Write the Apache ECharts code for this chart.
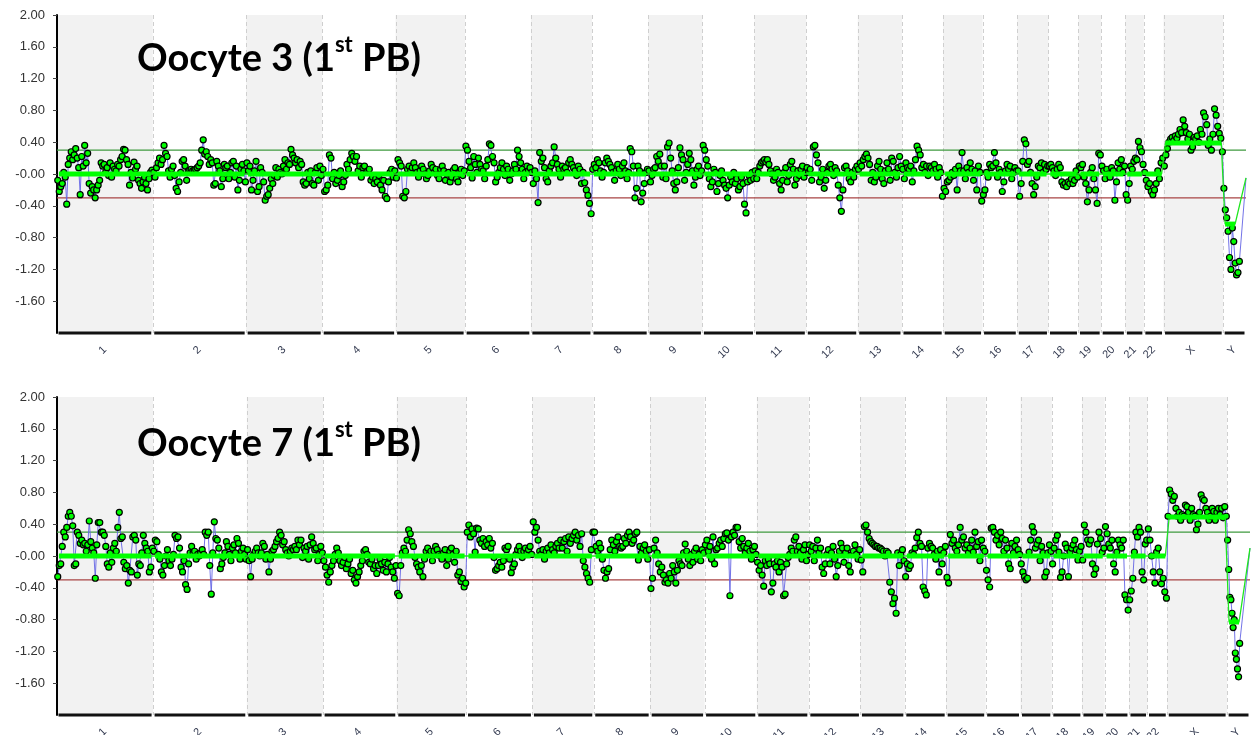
<!DOCTYPE html>
<html>
<head>
<meta charset="utf-8">
<script src="https://cdn.jsdelivr.net/npm/echarts@6/dist/echarts.min.js"></script>
<style>
  html, body { margin: 0; padding: 0; background: #fff; }
  #chart { width: 1259px; height: 735px; }
</style>
</head>
<body>
<div id="chart"></div>
<script>
// Chromosomes and their lengths (Mb, hg19)
const CHROMOSOMES = ['1','2','3','4','5','6','7','8','9','10','11','12','13','14','15','16','17','18','19','20','21','22','X','Y'];
const CHROM_LENGTH_MB = [249.3,243.2,198.0,191.2,180.9,171.1,159.1,146.4,141.2,135.5,135.0,133.9,115.2,107.3,102.5,90.4,81.2,78.1,59.1,63.0,48.1,51.3,155.3,59.4];

// Y axis ticks
const Y_MIN = -2.0, Y_MAX = 2.0, Y_STEP = 0.4;
// Calling thresholds
const GAIN_THRESHOLD = 0.30;
const LOSS_THRESHOLD = -0.30;

// Oocyte 3 (1st PB): log2 ratio per bin, one row per chromosome
const OOCYTE3_LOG2 = [
  [-0.08,-0.22,-0.16,-0.12,0.02,-0.04,-0.38,0.12,0.2,0.28,0.18,0.24,0.32,0.2,0.08,-0.26,0.22,0.1,0.36,0.14,0.26,-0.12,-0.24,-0.16,-0.2,-0.3,-0.2,-0.14,-0.08,0.14,0.1,0.12,0.02,0.08,-0.02,0.14,-0.04,0.1,0.06,0.04,0.12,0.1,0.18,0.22,0.31,0.3,0.18,0.12,-0.14,0.02,-0.05,0.15,0.06,0.1,-0.08,-0.12,-0.18,-0.1,-0.04,-0.12,-0.2,-0.06,0.02,0.05], // 1
  [0.02,-0.04,0.08,0.14,0.2,0.12,0.18,0.36,0.26,0.22,0.04,-0.04,0.06,0.1,-0.02,-0.18,-0.22,-0.1,0.02,0.16,0.18,0.1,-0.08,0.04,0.05,0.06,0.04,0.05,0.06,0.08,0.1,0.14,0.3,0.43,0.25,0.28,0.22,0.12,0.18,0.14,-0.14,-0.12,0.16,0.1,0.04,-0.16,-0.06,0.12,0.08,0.1,-0.06,0.02,0.14,0.16,-0.04,0.1,-0.2,-0.08,0.06,0.12,0.04,-0.1], // 2
  [0.14,0.04,0.1,-0.2,-0.08,0.04,0.16,-0.22,-0.16,0.08,0.02,-0.1,-0.33,-0.28,-0.26,-0.18,-0.06,-0.12,-0.02,0.08,-0.04,0.06,0.02,0.0,0.1,0.18,0.06,0.14,0.12,0.31,0.24,0.2,0.14,0.18,0.08,0.16,0.12,-0.1,-0.14,-0.12,0.02,-0.06,0.04,-0.12,-0.14,0.02,0.08,-0.08,0.1,-0.02], // 3
  [0.06,-0.22,-0.2,-0.14,0.24,0.2,-0.06,0.02,-0.12,-0.08,-0.02,0.04,-0.16,-0.1,-0.02,0.12,0.06,0.18,0.26,0.22,0.16,0.22,0.04,0.1,-0.04,0.08,0.1,0.02,0.04,0.06,-0.08,-0.04,-0.12,-0.06,-0.1,-0.02,-0.14,-0.2,-0.08,-0.28,-0.31,-0.1,0.02,0.06,-0.04,0.04], // 4
  [-0.05,0.18,0.14,0.1,-0.28,-0.3,-0.22,0.06,0.1,0.04,0.08,0.14,0.08,0.02,-0.04,0.04,0.1,0.06,0.0,-0.06,-0.02,0.04,0.12,0.08,0.02,0.06,-0.02,-0.06,0.06,0.1,0.04,-0.08,0.0,0.02,-0.1,-0.04,0.05,0.08,-0.06,-0.1,0.02,0.06,-0.02,0.04], // 5
  [0.35,0.3,0.16,0.08,-0.05,0.22,0.12,0.02,0.2,0.12,0.06,0.04,-0.06,0.1,0.18,0.38,0.36,0.22,0.14,-0.1,-0.04,0.02,0.08,0.14,0.06,-0.02,0.1,0.06,-0.08,0.0,0.04,0.12,0.06,0.3,0.22,0.14,0.06,-0.06,0.02,0.1,0.04,0.08], // 6
  [0.02,-0.12,0.04,-0.06,-0.36,0.27,0.16,0.2,0.08,-0.06,-0.1,0.04,0.1,0.14,0.34,0.2,0.12,0.06,-0.04,0.1,0.06,0.08,0.02,0.14,0.18,0.12,0.08,0.04,-0.02,0.1,0.06,-0.12,0.02,-0.11,-0.2,-0.27,-0.37,-0.5], // 7
  [0.06,0.12,0.08,0.18,0.14,0.04,-0.04,0.02,0.14,0.2,0.16,0.12,0.08,0.02,-0.08,0.04,0.12,0.06,-0.02,0.1,0.14,0.04,-0.06,0.02,0.32,0.28,0.1,-0.3,-0.18,0.1,0.04,-0.35,-0.24,-0.12,0.02,0.06], // 8
  [0.04,-0.1,-0.02,0.06,0.08,0.22,0.16,0.25,0.1,-0.04,0.1,-0.06,0.34,0.39,0.2,0.04,-0.12,-0.2,-0.1,0.08,0.33,0.24,0.18,-0.08,0.02,0.12,0.26,0.18,0.04,-0.14,-0.04,0.06,0.1,-0.02,0.04], // 9
  [0.36,0.3,0.18,0.1,-0.06,-0.16,-0.1,0.06,0.02,-0.22,-0.12,-0.02,0.04,-0.08,-0.14,-0.18,-0.3,-0.14,-0.04,-0.1,0.02,-0.12,-0.06,-0.2,-0.16,-0.04,-0.12,-0.38,-0.49,-0.1,-0.02,-0.08,0.02,-0.06], // 10
  [0.04,-0.06,0.02,0.1,0.14,0.16,0.18,0.15,0.18,0.12,0.04,0.0,-0.08,-0.04,0.06,0.02,-0.12,-0.2,-0.08,0.02,0.08,-0.1,-0.02,0.12,0.16,0.06,-0.14,-0.06,0.04,-0.02,0.06,0.1,-0.04,0.02], // 11
  [0.08,0.02,0.06,-0.08,0.34,0.36,0.24,0.14,-0.1,-0.04,0.06,-0.18,-0.08,0.02,0.1,0.12,0.06,-0.02,0.08,0.04,-0.14,-0.3,-0.47,-0.2,0.08,0.1,0.04,-0.06,-0.1,0.02,-0.04,0.06,0.1], // 12
  [0.06,0.14,0.1,0.18,0.22,0.25,0.2,0.12,-0.08,0.02,-0.1,-0.04,0.1,0.16,0.06,-0.06,-0.12,0.04,0.14,0.06,-0.08,0.2,0.16,0.02,-0.04,0.08,0.22,0.1], // 13
  [0.06,-0.06,0.14,0.08,0.06,0.1,-0.1,0.04,0.18,0.35,0.3,0.24,0.08,0.12,0.02,0.1,-0.02,0.1,0.08,0.04,0.12,0.06,-0.04,0.08,0.02,-0.28], // 14
  [-0.18,-0.22,-0.1,-0.08,-0.04,0.02,-0.02,0.06,-0.2,0.1,0.04,0.27,0.04,-0.06,0.08,0.02,0.14,0.06,-0.08,0.04,-0.2,0.1,0.02,-0.34], // 15
  [-0.26,-0.2,0.02,-0.04,0.12,0.08,0.1,0.27,0.14,-0.04,0.06,0.02,-0.22,-0.1,0.04,0.12,0.06,0.1,-0.06,0.02,0.08,0.04], // 16
  [0.04,-0.28,-0.12,0.16,0.43,0.38,0.12,0.16,0.02,-0.12,-0.26,-0.16,-0.04,0.1,0.08,0.14,0.02,0.12,0.06,0.1], // 17
  [0.1,0.12,0.08,0.04,-0.02,0.06,0.12,0.08,-0.1,-0.14,-0.12,-0.16,-0.1,-0.12,-0.06,-0.12,-0.08,0.04,-0.04], // 18
  [0.1,0.08,0.12,-0.04,-0.12,-0.35,-0.2,0.02,0.08,-0.06,-0.2,-0.37,0.26,0.24], // 19
  [0.1,0.04,-0.06,0.06,0.0,-0.04,0.08,0.04,-0.33,-0.1,0.14,0.06,0.18,0.02,0.1], // 20
  [-0.26,-0.33,-0.12,0.1,0.06,0.16,0.2,0.18,0.41,0.33,0.28,0.12], // 21
  [0.02,-0.08,-0.16,-0.12,-0.22,-0.26,-0.2,-0.12,0.04,-0.06,0.14,0.2], // 22
  [0.1,0.24,0.32,0.4,0.44,0.46,0.42,0.48,0.45,0.5,0.56,0.52,0.68,0.6,0.52,0.44,0.5,0.3,0.34,0.46,0.44,0.48,0.4,0.56,0.5,0.77,0.72,0.62,0.36,0.44,0.3,0.5,0.82,0.74,0.6,0.51,0.45,0.28], // X
  [-0.18,-0.45,-0.55,-0.72,-1.05,-1.2,-0.68,-0.85,-1.12,-1.27,-1.24,-1.1] // Y
];
const OOCYTE3_SEGMENT_MEAN = [0,0,0,0,0,0,0,0,0,0,0,0,0,0,0,0,0,0,0,0,0,0,0.39,-0.63];
const OOCYTE3_Y_MAPPED_MB = 44;   // Y bins lie in the first 44 Mb
const OOCYTE3_Y_END_VALUE = -0.05; // last bin at the end of Y

// Oocyte 7 (1st PB)
const OOCYTE7_LOG2 = [
  [-0.26,-0.12,-0.1,0.12,0.3,0.24,0.36,0.5,0.55,0.5,0.38,-0.12,-0.1,0.3,0.26,0.16,0.2,0.14,0.16,0.06,0.14,0.44,0.18,0.1,0.04,-0.28,0.14,0.42,0.42,0.3,0.3,0.26,0.12,-0.1,-0.14,0.04,-0.08,0.1,0.16,0.06,0.36,0.55,0.22,0.24,-0.08,-0.16,-0.12,-0.34,-0.18,-0.2,0.24,0.26,0.2,-0.24,-0.1,-0.12,0.04,0.26,0.16,0.1,0.06,-0.2,-0.14,0.1], // 1
  [0.06,0.2,0.18,0.02,-0.04,-0.2,-0.24,-0.12,0.0,0.08,-0.06,-0.12,-0.04,0.02,0.26,0.22,0.24,0.1,-0.14,-0.2,-0.06,-0.36,-0.42,-0.1,0.04,0.12,0.04,0.06,-0.04,0.02,0.0,0.04,0.08,0.02,0.3,0.26,0.3,-0.12,-0.48,0.04,0.43,0.22,0.2,0.1,-0.16,-0.1,-0.02,0.04,0.18,0.12,0.02,-0.06,0.1,0.14,0.04,0.22,0.16,-0.04,0.06,0.1,0.02,-0.04], // 2
  [0.08,-0.06,-0.26,-0.04,0.02,0.06,0.1,0.04,0.0,0.04,0.16,0.12,-0.04,0.02,-0.2,-0.04,0.06,0.08,0.12,0.18,0.22,0.3,0.26,0.14,0.18,0.08,0.04,0.0,0.06,0.1,0.08,0.12,0.08,0.2,0.14,0.2,-0.02,0.1,0.06,0.12,-0.04,0.14,0.24,0.16,0.08,0.1,-0.06,0.02,0.12,0.04], // 3
  [-0.06,-0.14,-0.24,-0.33,-0.2,-0.12,-0.06,0.02,0.1,0.04,-0.06,-0.12,-0.08,-0.02,-0.16,-0.1,-0.04,-0.22,-0.18,-0.3,-0.34,-0.26,-0.2,-0.12,-0.06,0.06,0.08,0.02,-0.08,-0.1,-0.04,-0.16,-0.12,-0.22,-0.12,-0.04,-0.1,-0.18,-0.08,-0.2,-0.1,-0.02,-0.14,-0.2,-0.28,-0.12], // 4
  [-0.47,-0.5,-0.12,0.04,0.1,0.06,0.2,0.33,0.28,0.18,0.12,-0.02,-0.1,-0.14,-0.2,-0.12,-0.26,-0.04,0.06,0.1,0.02,0.06,-0.06,0.06,0.12,0.08,0.02,0.0,-0.04,0.04,0.08,-0.12,-0.04,0.06,0.1,0.02,-0.08,0.06,-0.24,-0.2,-0.32,-0.28,-0.39,-0.34], // 5
  [0.3,0.39,0.24,0.34,0.28,0.05,0.35,0.34,0.2,0.16,0.22,0.12,0.18,0.14,0.22,0.1,0.16,-0.02,-0.18,-0.16,-0.12,-0.08,-0.14,-0.06,0.1,0.08,0.12,-0.04,-0.21,-0.14,-0.1,0.02,0.08,0.12,0.06,-0.02,0.06,0.1,0.04,0.08,0.12,0.02], // 6
  [0.43,0.3,0.36,0.2,0.06,0.02,0.08,-0.04,0.06,0.1,0.04,0.14,0.08,0.04,0.12,0.16,0.1,0.2,0.1,0.18,0.22,0.06,0.24,0.16,0.22,0.26,0.3,0.2,0.26,0.12,0.28,-0.06,-0.14,-0.22,-0.28,-0.33,0.08,0.3], // 7
  [0.3,0.12,0.06,0.16,0.1,-0.04,-0.18,-0.28,-0.2,-0.16,0.08,0.2,0.14,0.06,0.18,0.24,0.12,0.1,0.12,0.22,0.16,0.26,0.3,0.24,0.16,0.2,0.28,0.3,-0.05,0.12,0.04,0.1,0.14,0.06,-0.04,0.08], // 8
  [-0.41,-0.28,0.1,0.2,0.04,-0.1,-0.2,-0.14,-0.24,-0.33,-0.3,-0.34,-0.22,-0.28,-0.12,-0.2,-0.34,-0.18,-0.06,-0.1,-0.12,0.04,0.15,0.06,-0.04,-0.12,0.02,-0.08,0.06,0.1,-0.04,0.02,-0.06,0.08,0.04], // 9
  [0.14,0.2,0.06,0.12,-0.04,0.24,-0.1,0.08,0.1,0.16,0.2,0.12,0.22,0.28,0.29,0.2,-0.5,0.24,0.3,0.26,0.36,0.36,0.18,0.1,0.22,0.12,0.04,0.1,0.16,0.06,-0.04,0.08,0.12,0.02], // 10
  [-0.08,-0.18,-0.12,-0.24,-0.38,-0.06,-0.12,-0.04,-0.1,-0.45,-0.34,-0.1,-0.14,-0.06,-0.2,-0.08,-0.14,-0.5,-0.48,-0.1,-0.02,0.02,0.1,0.06,0.2,0.24,0.06,0.12,0.04,-0.04,0.08,0.14,-0.06,0.02], // 11
  [0.14,0.06,0.12,-0.06,0.1,0.2,0.04,0.1,-0.14,-0.22,-0.1,0.02,0.08,-0.1,0.04,0.12,-0.04,-0.26,-0.12,0.06,0.16,0.1,-0.08,0.04,0.1,-0.12,-0.2,0.02,0.06,0.14,0.02,-0.04,0.08], // 12
  [-0.05,-0.2,0.37,0.39,0.3,0.22,0.18,0.16,0.14,0.12,0.12,0.1,0.1,0.08,0.06,0.0,0.06,0.04,-0.33,-0.45,-0.6,-0.53,-0.72,0.04,-0.12,0.02,0.08,-0.06], // 13
  [-0.26,-0.1,-0.16,-0.12,0.04,0.02,0.1,0.23,0.3,0.16,0.12,-0.39,-0.44,-0.49,0.1,0.16,0.12,0.1,0.02,-0.04,0.06,-0.2,0.08,-0.1,0.04,0.12], // 14
  [-0.27,-0.34,0.27,0.16,0.2,0.1,0.06,0.14,0.36,0.2,0.24,0.1,0.14,0.04,0.1,0.2,0.05,0.3,0.12,0.18,-0.06,0.2,0.1,0.06], // 15
  [-0.18,-0.3,-0.39,0.35,0.36,0.3,0.2,0.26,0.14,0.3,0.22,0.06,0.2,0.1,-0.1,-0.16,0.16,0.04,0.12,0.2,0.08,0.02], // 16
  [-0.1,-0.2,-0.26,-0.3,-0.28,0.05,0.2,0.37,0.3,0.1,0.15,0.2,-0.06,0.12,0.04,-0.26,-0.2,0.04,0.14,0.06], // 17
  [-0.1,0.1,0.2,0.26,0.05,-0.27,-0.2,0.0,0.15,0.1,-0.26,0.05,0.1,0.14,0.2,0.08,-0.05,0.06,0.12], // 18
  [-0.05,0.39,0.3,0.2,0.15,0.2,-0.1,-0.23,-0.16,0.15,0.3,0.22,0.05,0.1], // 19
  [0.37,0.28,0.15,0.1,0.2,-0.1,-0.2,0.05,0.2,0.14,0.1,0.2,-0.49,-0.55,-0.68], // 20
  [-0.55,-0.44,-0.28,0.05,0.3,0.24,0.36,0.3,-0.2,-0.3,0.15,0.2], // 21
  [0.34,0.2,0.0,-0.2,-0.34,0.05,0.1,-0.2,-0.35,-0.28,-0.45,-0.53], // 22
  [0.5,0.83,0.78,0.7,0.75,0.6,0.5,0.55,0.45,0.52,0.5,0.64,0.62,0.55,0.45,0.6,0.52,0.5,0.33,0.4,0.55,0.77,0.72,0.7,0.6,0.55,0.45,0.5,0.6,0.56,0.45,0.55,0.6,0.52,0.6,0.48,0.62,0.5], // X
  [0.2,-0.17,-0.52,-0.55,-0.72,-0.9,-0.8,-1.22,-1.3,-1.42,-1.52,-1.1] // Y
];
const OOCYTE7_SEGMENT_MEAN = [0,0,0,0,0,0,0,0,0,0,0,0,0,0,0,0,0,0,0,0,0,0,0.49,-0.83];
const OOCYTE7_Y_MAPPED_MB = 34;
const OOCYTE7_Y_END_VALUE = 0.10;

// Segment on Y spans its first 31 Mb
const Y_SEGMENT_END_MB = 31;

// ---- derived genome coordinates ----
const CHROM_START = [];
let acc = 0;
CHROM_LENGTH_MB.forEach(len => { CHROM_START.push(acc); acc += len; });
const GENOME_MB = acc;
const CHROM_CENTER = CHROM_START.map((s, i) => s + CHROM_LENGTH_MB[i] / 2);
const SEG_INSET_MB = 5;

const chart = echarts.init(document.getElementById('chart'), null, { renderer: 'canvas' });

function chromName(v) {
  let best = 0, d = Infinity;
  CHROM_CENTER.forEach((c, i) => { const dd = Math.abs(c - v); if (dd < d) { d = dd; best = i; } });
  return CHROMOSOMES[best];
}

function makeAxes(gi) {
  const xAxis = {
    type: 'value', gridIndex: gi, min: 0, max: GENOME_MB,
    axisLine: { show: false }, axisTick: { show: false }, splitLine: { show: false },
    axisLabel: {
      customValues: CHROM_CENTER, formatter: chromName, rotate: 45,
      fontSize: 11, color: '#333a50', margin: 15, fontFamily: 'Liberation Sans, Arial, sans-serif'
    }
  };
  const yAxis = {
    type: 'value', gridIndex: gi, min: Y_MIN, max: Y_MAX, interval: Y_STEP,
    axisLine: { show: true, lineStyle: { color: '#000', width: 2 } },
    axisTick: { show: true, length: 4, lineStyle: { color: '#444' } },
    splitLine: { show: false },
    axisLabel: {
      showMinLabel: false, showMaxLabel: true, color: '#333', fontSize: 13, margin: 12,
      fontFamily: 'Liberation Sans, Arial, sans-serif',
      formatter: v => Math.abs(v) < 1e-9 ? '-0.00' : v.toFixed(2)
    }
  };
  return { xAxis, yAxis };
}

function makeSeries(gi, log2, segMean, yMappedMb, yEndValue) {
  const ax = { xAxisIndex: gi, yAxisIndex: gi };

  // bins
  const points = [];
  log2.forEach((vals, c) => {
    const span = CHROMOSOMES[c] === 'Y' ? yMappedMb : CHROM_LENGTH_MB[c];
    vals.forEach((v, i) => points.push([CHROM_START[c] + (i + 0.5) * span / vals.length, v]));
  });
  points.push({ value: [GENOME_MB, yEndValue], symbol: 'none' });

  // segments
  const segs = segMean.map((m, c) => {
    const s = CHROM_START[c] + SEG_INSET_MB;
    const e = CHROMOSOMES[c] === 'Y' ? CHROM_START[c] + Y_SEGMENT_END_MB
                                     : CHROM_START[c] + CHROM_LENGTH_MB[c] - SEG_INSET_MB;
    return [s, e, m];
  });
  const segPath = [];
  segs.forEach(s => { segPath.push([s[0], s[2]]); segPath.push([s[1], s[2]]); });
  segPath.push([GENOME_MB, yEndValue]);

  const bands = [];
  CHROM_START.forEach((s, i) => { if (i % 2 === 0) bands.push([s, s + CHROM_LENGTH_MB[i]]); });
  const bounds = CHROM_START.slice(1).map(s => [s]);
  const spans = CHROM_START.map((s, i) => [s, s + CHROM_LENGTH_MB[i]]);

  return [
    { // alternating chromosome shading
      type: 'custom', ...ax, silent: true, z: 0, data: bands,
      renderItem: (p, api) => {
        const a = api.coord([api.value(0), Y_MAX]);
        const b = api.coord([api.value(1), Y_MIN]);
        return { type: 'rect', shape: { x: a[0], y: a[1], width: b[0] - a[0], height: b[1] - a[1] },
                 style: { fill: '#f2f2f2' } };
      }
    },
    { // chromosome boundaries
      type: 'custom', ...ax, silent: true, z: 1, data: bounds,
      renderItem: (p, api) => {
        const a = api.coord([api.value(0), Y_MAX]);
        const b = api.coord([api.value(0), Y_MIN]);
        const x = Math.round(a[0]) + 0.5;
        return { type: 'line', shape: { x1: x, y1: a[1], x2: x, y2: b[1] },
                 style: { stroke: '#cfcfcf', lineWidth: 1, lineDash: [4, 3] } };
      }
    },
    { type: 'line', ...ax, silent: true, z: 2, symbol: 'none',
      data: [[0, GAIN_THRESHOLD], [GENOME_MB, GAIN_THRESHOLD]],
      lineStyle: { color: '#3f9a3f', width: 1.3 } },
    { type: 'line', ...ax, silent: true, z: 2, symbol: 'none',
      data: [[0, LOSS_THRESHOLD], [GENOME_MB, LOSS_THRESHOLD]],
      lineStyle: { color: '#a84444', width: 1.3 } },
    { // log2 ratio bins
      type: 'line', ...ax, silent: true, z: 3, data: points,
      symbol: 'circle', symbolSize: 6, showSymbol: true, showAllSymbol: true,
      itemStyle: { color: '#00ff00', borderColor: '#000', borderWidth: 1.2 },
      lineStyle: { color: 'rgba(100,100,228,0.9)', width: 1 }
    },
    { // segment connector
      type: 'line', ...ax, silent: true, z: 4, symbol: 'none', data: segPath,
      lineStyle: { color: '#1ee61e', width: 1.3 }
    },
    { // segment means
      type: 'custom', ...ax, silent: true, z: 5, data: segs,
      renderItem: (p, api) => {
        const a = api.coord([api.value(0), api.value(2)]);
        const b = api.coord([api.value(1), api.value(2)]);
        return { type: 'line', shape: { x1: a[0], y1: a[1], x2: b[0], y2: b[1] },
                 style: { stroke: '#00ff00', lineWidth: 5 } };
      }
    },
    { // x axis, one segment per chromosome
      type: 'custom', ...ax, silent: true, z: 6, data: spans,
      renderItem: (p, api) => {
        const a = api.coord([api.value(0), Y_MIN]);
        const b = api.coord([api.value(1), Y_MIN]);
        return { type: 'line', shape: { x1: a[0] + 1.5, y1: a[1], x2: b[0] - 1.5, y2: b[1] },
                 style: { stroke: '#111', lineWidth: 3 } };
      }
    }
  ];
}

const a0 = makeAxes(0), a1 = makeAxes(1);

function titleText(label, top) {
  return {
    type: 'text', left: 137, top: top, z: 100,
    style: {
      text: '{m|' + label + ' (1}{s|st}{m| PB)}',
      rich: {
        m: { fontFamily: 'Lato', fontWeight: 'bold', fontSize: 38, fill: '#000', verticalAlign: 'bottom', lineHeight: 44 },
        s: { fontFamily: 'Lato', fontWeight: 'bold', fontSize: 22, fill: '#000', verticalAlign: 'top', lineHeight: 44 }
      }
    }
  };
}

chart.setOption({
  animation: false,
  backgroundColor: '#fff',
  grid: [
    { left: 57, top: 15, width: 1189, height: 318, outerBoundsMode: 'none' },
    { left: 57, top: 397, width: 1193, height: 318, outerBoundsMode: 'none' }
  ],
  xAxis: [a0.xAxis, a1.xAxis],
  yAxis: [a0.yAxis, a1.yAxis],
  series: [
    ...makeSeries(0, OOCYTE3_LOG2, OOCYTE3_SEGMENT_MEAN, OOCYTE3_Y_MAPPED_MB, OOCYTE3_Y_END_VALUE),
    ...makeSeries(1, OOCYTE7_LOG2, OOCYTE7_SEGMENT_MEAN, OOCYTE7_Y_MAPPED_MB, OOCYTE7_Y_END_VALUE)
  ],
  graphic: [
    titleText('Oocyte 3', 34),
    titleText('Oocyte 7', 419)
  ]
});
</script>
</body>
</html>
